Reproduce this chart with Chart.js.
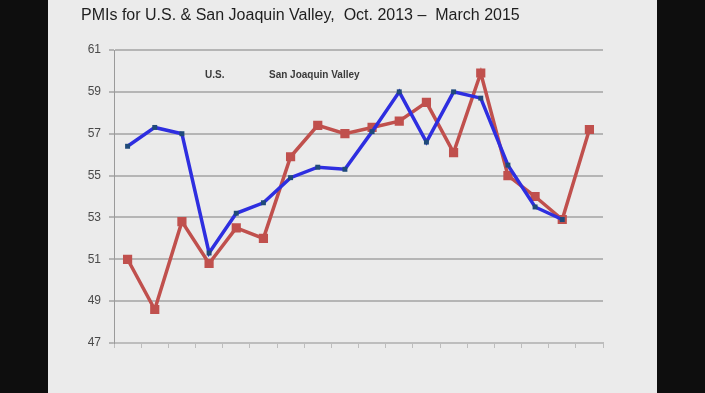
<!DOCTYPE html>
<html><head><meta charset="utf-8">
<script src="https://cdn.jsdelivr.net/npm/chart.js@4"></script>
<style>
html,body{margin:0;padding:0;background:#0e0e0e;width:705px;height:393px;overflow:hidden}
#wrap{position:absolute;left:48px;top:0;width:609px;height:393px;background:#ebebeb}
canvas{display:block}
</style></head><body>
<div id="wrap"><canvas id="c" width="609" height="393"></canvas></div>
<script>
const months = ["Oct 2013","Nov 2013","Dec 2013","Jan 2014","Feb 2014","Mar 2014","Apr 2014","May 2014","Jun 2014","Jul 2014","Aug 2014","Sep 2014","Oct 2014","Nov 2014","Dec 2014","Jan 2015","Feb 2015","Mar 2015"];
const usPMI = [56.4,57.3,57.0,51.3,53.2,53.7,54.9,55.4,55.3,57.1,59.0,56.6,59.0,58.7,55.5,53.5,52.9,null];
const sjvPMI = [51.0,48.6,52.8,50.8,52.5,52.0,55.9,57.4,57.0,57.3,57.6,58.5,56.1,59.9,55.0,54.0,52.9,57.2];
const yTicks = [47,49,51,53,55,57,59,61];
const seriesLabels = ["U.S.","San Joaquin Valley"];
const titleText = "PMIs for U.S. & San Joaquin Valley,  Oct. 2013 \u2013  March 2015";

const legendText = {
  id:'legendText',
  afterDraw(chart){
    const ctx = chart.ctx, a = chart.chartArea;
    ctx.save();
    ctx.font = 'bold 10px "Liberation Sans", Arial, sans-serif';
    ctx.fillStyle = '#3a3a3a';
    ctx.textBaseline = 'middle';
    ctx.fillText(chart.data.datasets[0].label, a.left + 91, a.top + 25);
    ctx.fillText(chart.data.datasets[1].label, a.left + 155, a.top + 25);
    ctx.restore();
  }
};

new Chart(document.getElementById('c'), {
  type:'line',
  data:{
    labels: months,
    datasets:[
      {label:seriesLabels[0], data:usPMI, borderColor:'#2e2ee0', backgroundColor:'#1f4a7a', pointBackgroundColor:'#1f4a7a', pointBorderColor:'#1f4a7a', borderWidth:3.5, pointStyle:'rect', pointRadius:3.5, pointBorderWidth:0, tension:0, spanGaps:false},
      {label:seriesLabels[1], data:sjvPMI, borderColor:'#c0504d', backgroundColor:'#c0504d', pointBackgroundColor:'#c0504d', pointBorderColor:'#c0504d', borderWidth:3.5, pointStyle:'rect', pointRadius:6.5, pointBorderWidth:0, tension:0}
    ]
  },
  options:{
    responsive:false, animation:false, devicePixelRatio:1,
    layout:{padding:{left:33,right:54,top:0,bottom:0}},
    plugins:{
      legend:{display:false},
      tooltip:{enabled:false},
      title:{display:true, text:titleText, align:'start', color:'#1e1e1e',
        font:{family:'"Liberation Sans", Arial, sans-serif', size:16, weight:'normal', lineHeight:1.2},
        padding:{top:6,bottom:24.8}}
    },
    scales:{
      x:{offset:true,
        grid:{offset:true, drawOnChartArea:false, drawTicks:true, tickLength:5, color:'#bdbdbd', lineWidth:1},
        border:{color:'#bdbdbd', width:2},
        ticks:{display:false},
        afterFit(s){ s.height = 50; }
      },
      y:{min:47,max:61,
        afterBuildTicks(s){ s.ticks = yTicks.map(v=>({value:v})); },
        grid:{color:'#b5b5b5', lineWidth:2, tickLength:5, drawTicks:true},
        border:{color:'#9a9a9a', width:1},
        ticks:{color:'#4a4a4a', padding:8, font:{family:'"Liberation Sans", Arial, sans-serif', size:12}},
        afterFit(s){ s.width = 33; }
      }
    }
  },
  plugins:[legendText]
});
</script>
</body></html>
